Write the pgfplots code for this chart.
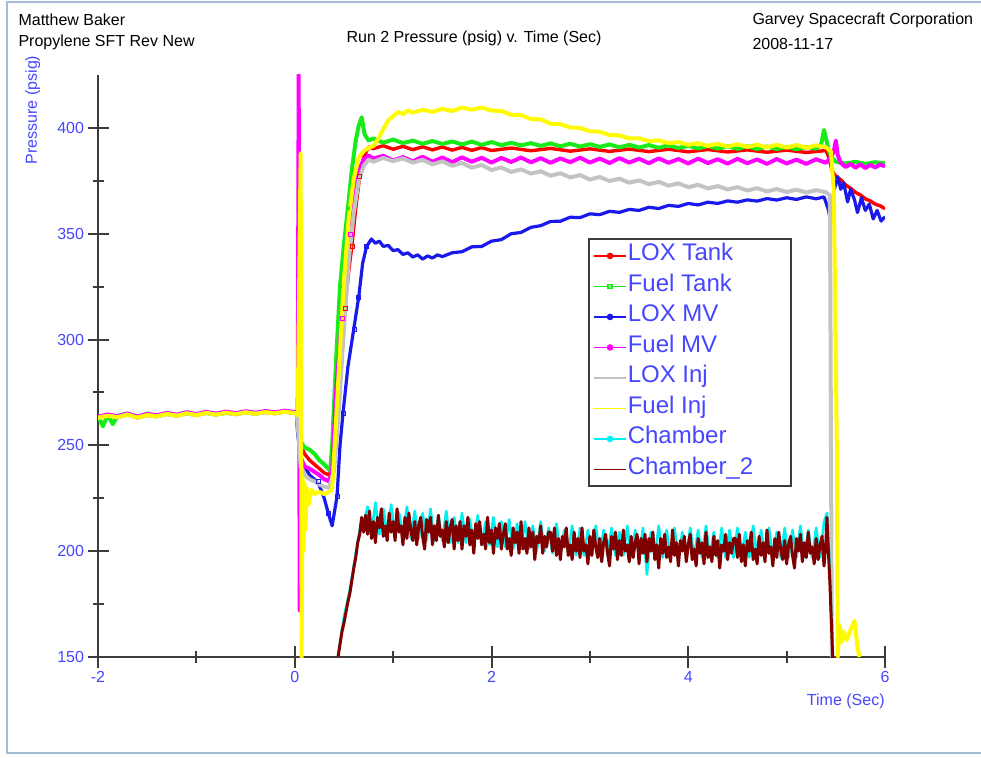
\documentclass[border=0pt]{standalone}
\usepackage{fontspec}
\setmainfont{Liberation Sans}
\usepackage{pgfplots}
\pgfplotsset{compat=1.18}

\definecolor{lox}{RGB}{255,0,0}
\definecolor{fueltank}{RGB}{25,235,25}
\definecolor{loxmv}{RGB}{25,25,235}
\definecolor{fuelmv}{RGB}{255,0,255}
\definecolor{loxinj}{RGB}{195,195,195}
\definecolor{fuelinj}{RGB}{255,250,0}
\definecolor{chamb}{RGB}{0,240,240}
\definecolor{chambtwo}{RGB}{128,0,0}
\definecolor{txtblue}{RGB}{70,70,255}
\definecolor{framecol}{RGB}{165,188,215}
\definecolor{axcol}{RGB}{60,60,60}

\newcommand{\lgd}[1]{\makebox[158pt][l]{#1}}

\begin{document}
\begin{tikzpicture}
\useasboundingbox (0,0) rectangle (981pt,757pt);
\draw[framecol, line width=2pt] (995pt,755pt) -- (7pt,755pt) -- (7pt,4pt) -- (995pt,4pt);

\begin{axis}[
    at={(98pt,100pt)}, anchor=south west,
    scale only axis, width=787pt, height=582pt,
    xmin=-2, xmax=6, ymin=150, ymax=425,
    axis lines*=left,
    axis line style={axcol, line width=2pt},
    tick style={axcol, line width=2pt},
    tick align=center,
    major tick length=21pt, minor tick length=11pt,
    xtick={-2,0,2,4,6}, minor xtick={-1,1,3,5},
    ytick={150,200,...,400}, minor ytick={175,225,...,375},
    /pgf/number format/assume math mode=true,
    ticklabel style={font=\fontsize{16}{18}\selectfont, text=txtblue},
    xlabel={Time (Sec)},
    ylabel={Pressure (psig)},
    every axis x label/.style={at={(axis description cs:1.004,-0.077)}, anchor=east, font=\fontsize{16}{18}\selectfont, text=txtblue},
    every axis y label/.style={at={(axis description cs:-0.083,0.94)}, rotate=90, anchor=center, font=\fontsize{16}{18}\selectfont, text=txtblue},
    legend style={at={(0.623,0.72)}, anchor=north west, draw=axcol, line width=2pt, fill=white,
        font=\fontsize{24}{27}\selectfont, text=txtblue, inner xsep=4pt, inner ysep=5pt, row sep=6.5pt,
        nodes={inner sep=1pt, text height=16pt, text depth=6pt}},
    legend cell align=left,
    legend image code/.code={\draw[mark repeat=2, mark phase=2, #1] plot coordinates {(0pt,0pt) (16pt,0pt) (32pt,0pt)};},
]

% LOX Tank
\addplot[forget plot, lox, line width=3.4pt, line join=round] coordinates {
(-2,263)(-1.9,264.2)(-1.8,263.4)(-1.7,264.6)(-1.6,263.2)(-1.5,264.4)(-1.4,263.8)(-1.3,264.9)(-1.2,264.1)(-1.1,265.2)(-1,264.4)(-0.9,265.4)(-0.8,264.6)(-0.7,265.5)(-0.6,264.8)(-0.5,265.7)(-0.4,265)(-0.3,265.8)(-0.2,265.2)(-0.1,266)(0,265.3)(0.02,265.6)
(0.03,258)(0.06,250)(0.1,246)(0.15,243)(0.2,241)(0.25,239)(0.3,237)(0.35,236)(0.38,240)(0.42,268)(0.46,295)(0.51,315)(0.55,333)(0.58,344)(0.62,362)(0.66,377)(0.70,386)(0.75,391)
(0.8,390.2)(0.9,391.6)(1.0,389.9)(1.1,391.3)(1.2,389.7)(1.3,391.1)(1.4,389.6)(1.5,391)(1.6,389.5)(1.7,390.8)(1.8,389.4)(1.9,390.7)(2.0,389.3)(2.2,390.5)(2.4,389.2)(2.6,390.3)(2.8,389)(3.0,390.1)(3.2,388.9)(3.4,390)(3.6,388.8)(3.8,389.9)(4.0,388.7)(4.2,389.8)(4.4,388.6)(4.6,389.6)(4.8,388.5)(5.0,389.5)(5.2,388.4)(5.4,389.3)
(5.43,386)(5.46,380)(5.5,377)(5.55,375.5)(5.6,373)(5.65,371.5)(5.7,369.5)(5.75,368.3)(5.8,366.5)(5.85,365.5)(5.9,364)(5.95,363.2)(6,361.8)
};
\addplot[forget plot, only marks, lox, mark=square, mark size=2pt] coordinates {(0.51,315)(0.58,344)(0.66,377)};

% Fuel Tank
\addplot[forget plot, fueltank, line width=4pt, line join=round] coordinates {
(-2,264)(-1.95,259)(-1.9,264.5)(-1.85,260)(-1.8,264)(-1.7,265)(-1.6,263.5)(-1.5,265)(-1.4,264)(-1.3,265.3)(-1.2,264.3)(-1.1,265.6)(-1,264.5)(-0.9,265.6)(-0.8,264.8)(-0.7,265.8)(-0.6,265)(-0.5,266)(-0.4,265.2)(-0.3,266.1)(-0.2,265.4)(-0.1,266.2)(0,265.6)(0.02,266)
(0.03,258)(0.06,252)(0.1,249)(0.15,248)(0.2,246)(0.25,243)(0.3,241)(0.36,238)(0.38,250)(0.42,290)(0.46,325)(0.5,345)(0.54,362)(0.58,380)(0.62,394)(0.65,401)(0.68,405)(0.71,397)(0.75,394)
(0.8,395)(0.9,393)(1.0,394.5)(1.1,392.8)(1.2,394)(1.3,392.5)(1.4,393.8)(1.5,392.4)(1.6,393.6)(1.7,392.2)(1.8,393.5)(1.9,392)(2.0,393.3)(2.1,391.8)(2.2,393)(2.3,391.7)(2.4,392.8)(2.5,391.5)(2.6,392.7)(2.7,391.3)(2.8,392.5)(2.9,391.2)(3.0,392.3)(3.1,391)(3.2,392.2)(3.3,390.8)(3.4,392)(3.5,390.7)(3.6,391.9)(3.7,390.6)(3.8,391.8)(3.9,390.5)(4.0,391.6)(4.1,390.3)(4.2,391.5)(4.3,390.2)(4.4,391.4)(4.5,390.1)(4.6,391.3)(4.7,390)(4.8,391.2)(4.9,390)(5.0,391.1)(5.1,389.9)(5.2,391)(5.3,390.2)
(5.35,392)(5.38,399)(5.40,395)(5.43,389)(5.46,386)(5.5,384)(5.6,383.2)(5.7,384)(5.8,383)(5.9,383.8)(6,383.2)
};
\addplot[forget plot, only marks, fueltank, mark=*, mark size=2pt] coordinates {(0.46,325)(0.54,362)(0.62,394)};

% LOX MV
\addplot[forget plot, loxmv, line width=3.2pt, line join=round] coordinates {
(-2,263)(-1.9,264)(-1.8,263.2)(-1.7,264.4)(-1.6,263)(-1.5,264.2)(-1.4,263.6)(-1.3,264.7)(-1.2,263.9)(-1.1,265)(-1,264.2)(-0.9,265.2)(-0.8,264.4)(-0.7,265.3)(-0.6,264.6)(-0.5,265.5)(-0.4,264.8)(-0.3,265.6)(-0.2,265)(-0.1,265.8)(0,265.1)(0.02,265.4)
(0.03,255)(0.06,245)(0.1,240)(0.15,236)(0.2,234)(0.25,231)(0.3,225)(0.34,218)(0.38,212)(0.43,226)(0.46,250)(0.49,265)(0.54,287)(0.6,305)(0.65,320)(0.69,336)(0.73,344)(0.78,347.5)
(0.82,345.5)(0.86,346.5)(0.9,344)(0.95,344.5)(1.0,342)(1.05,342.5)(1.1,340.2)(1.15,341)(1.2,339)(1.25,340)(1.3,338)(1.35,339.5)(1.4,338.5)(1.45,340)(1.5,339.2)(1.6,341)(1.7,341.5)(1.8,343.8)(1.9,344)(2.0,346.5)(2.1,347.2)(2.2,350)(2.3,350.6)(2.4,353)(2.5,353.8)(2.6,355.8)(2.7,355.9)(2.8,357.8)(2.9,357.6)(3.0,359.4)(3.1,359)(3.2,360.6)(3.3,360.1)(3.4,361.5)(3.5,361)(3.6,362.5)(3.7,361.9)(3.8,363.4)(3.9,362.9)(4.0,364.3)(4.1,363.6)(4.2,364.9)(4.3,364.3)(4.4,365.5)(4.5,364.9)(4.6,366)(4.7,365.4)(4.8,366.6)(4.9,365.9)(5.0,367)(5.1,366.2)(5.2,367.4)(5.3,366.5)(5.38,367.4)
(5.42,362)(5.45,356)(5.48,370)(5.52,377)(5.55,371)(5.58,374)(5.62,365)(5.65,371)(5.69,366)(5.72,360)(5.76,367)(5.8,361)(5.84,364)(5.88,357)(5.92,361)(5.96,356)(6,358)
};
\addplot[forget plot, only marks, loxmv, mark=square, mark size=2pt] coordinates {(0.24,233)(0.34,218)(0.43,226)(0.49,265)(0.6,305)(0.65,320)(0.73,344)};

% Fuel MV
\addplot[forget plot, fuelmv, line width=4pt, line join=round] coordinates {
(-2,263.5)(-1.9,264.6)(-1.8,263.8)(-1.7,265)(-1.6,263.6)(-1.5,264.8)(-1.4,264.2)(-1.3,265.3)(-1.2,264.5)(-1.1,265.6)(-1,264.8)(-0.9,265.8)(-0.8,265)(-0.7,265.9)(-0.6,265.2)(-0.5,266.1)(-0.4,265.4)(-0.3,266.2)(-0.2,265.6)(-0.1,266.4)(0,265.7)(0.02,266)
(0.03,265)(0.04,425)(0.05,172)(0.06,236)(0.08,242)(0.1,240)(0.15,239)(0.2,237.5)(0.25,236)(0.3,234)(0.35,233)(0.38,238)(0.42,275)(0.48,310)(0.52,332)(0.56,350)(0.6,368)(0.65,380)(0.7,385)(0.75,387)
(0.8,385.5)(0.9,386.8)(1.0,384.6)(1.1,386.2)(1.2,384.2)(1.3,386.4)(1.4,384)(1.5,386)(1.6,383.8)(1.7,386.1)(1.8,384)(1.9,385.9)(2.0,383.6)(2.1,385.8)(2.2,383.9)(2.3,386)(2.4,383.7)(2.5,385.7)(2.6,383.5)(2.7,385.6)(2.8,383.8)(2.9,385.9)(3.0,383.6)(3.1,385.5)(3.2,383.4)(3.3,385.7)(3.4,383.6)(3.5,385.4)(3.6,383.3)(3.7,385.6)(3.8,383.5)(3.9,385.3)(4.0,383.2)(4.1,385.5)(4.2,383.4)(4.3,385.2)(4.4,383.1)(4.5,385.4)(4.6,383.3)(4.7,385.1)(4.8,383)(4.9,385.3)(5.0,383.2)(5.1,385)(5.2,383)(5.3,385.2)(5.4,383.5)
(5.45,386)(5.48,389)(5.5,394)(5.52,387)(5.55,383.5)(5.6,381.5)(5.65,383)(5.7,381.2)(5.75,382.8)(5.8,381)(5.85,382.6)(5.9,381.3)(5.95,382.7)(6,381.8)
};
\addplot[forget plot, only marks, fuelmv, mark=square, mark size=2pt] coordinates {(0.48,310)(0.56,350)};

% LOX Inj
\addplot[forget plot, loxinj, line width=4pt, line join=round] coordinates {
(-2,263)(-1.9,264)(-1.8,263.3)(-1.7,264.5)(-1.6,263.1)(-1.5,264.3)(-1.4,263.7)(-1.3,264.8)(-1.2,264)(-1.1,265.1)(-1,264.3)(-0.9,265.3)(-0.8,264.5)(-0.7,265.4)(-0.6,264.7)(-0.5,265.6)(-0.4,264.9)(-0.3,265.7)(-0.2,265.1)(-0.1,265.9)(0,265.2)(0.02,265.5)
(0.03,260)(0.06,240)(0.1,236)(0.15,234)(0.2,233)(0.25,231.5)(0.3,230.5)(0.35,230)(0.4,238)(0.45,268)(0.5,305)(0.55,338)(0.6,360)(0.65,375)(0.7,382)(0.75,385)
(0.8,384)(0.9,385.8)(1.0,384.3)(1.1,385.6)(1.2,383.6)(1.3,384.9)(1.4,382.8)(1.5,384.2)(1.6,382.1)(1.7,383.4)(1.8,381.2)(1.9,382.5)(2.0,380.1)(2.1,381.3)(2.2,379.2)(2.3,380.4)(2.4,378.4)(2.5,379.5)(2.6,377.4)(2.7,378.6)(2.8,376.6)(2.9,377.7)(3.0,375.6)(3.1,376.8)(3.2,374.9)(3.3,376)(3.4,374.1)(3.5,375.2)(3.6,373.4)(3.7,374.5)(3.8,372.7)(3.9,373.8)(4.0,372)(4.1,373.1)(4.2,371.4)(4.3,372.5)(4.4,370.9)(4.5,372)(4.6,370.4)(4.7,371.5)(4.8,370)(4.9,371.1)(5.0,369.7)(5.1,370.8)(5.2,369.5)(5.3,370.6)(5.4,369.6)
(5.44,368)(5.46,150)
};

% Fuel Inj
\addplot[forget plot, fuelinj, line width=4pt, line join=round] coordinates {
(-2,263)(-1.9,264)(-1.8,263.3)(-1.7,264.5)(-1.6,263.1)(-1.5,264.3)(-1.4,263.7)(-1.3,264.8)(-1.2,264)(-1.1,265.1)(-1,264.3)(-0.9,265.3)(-0.8,264.5)(-0.7,265.4)(-0.6,264.7)(-0.5,265.6)(-0.4,264.9)(-0.3,265.7)(-0.2,265.1)(-0.1,265.9)(0,265.2)(0.02,265.5)
(0.03,264)(0.06,388)(0.07,150)(0.08,235)(0.09,200)(0.1,232)(0.11,210)(0.12,230)(0.14,222)(0.17,229)(0.2,227)(0.25,228)(0.3,227)(0.35,228)(0.38,229)(0.42,262)(0.46,295)(0.5,328)(0.55,358)(0.6,376)(0.65,386)(0.7,389)(0.75,390.5)
(0.8,391.5)(0.85,395)(0.9,399.5)(0.95,403.5)(1.0,405.5)(1.05,407.5)(1.1,406.5)(1.15,408.2)(1.2,407.2)(1.3,408.6)(1.4,407.6)(1.5,409)(1.6,408)(1.7,409.6)(1.8,408.6)(1.9,409.6)(2.0,408.2)(2.1,408)(2.2,406.2)(2.3,406)(2.4,404.2)(2.5,404)(2.6,402)(2.7,401.8)(2.8,400.2)(2.9,400)(3.0,398.4)(3.1,398.2)(3.2,396.6)(3.3,396.5)(3.4,395)(3.5,395.1)(3.6,393.8)(3.7,394.1)(3.8,392.8)(3.9,393.3)(4.0,392)(4.1,392.8)(4.2,391.5)(4.3,392.5)(4.4,391.2)(4.5,392.3)(4.6,391)(4.7,392.1)(4.8,390.8)(4.9,392)(5.0,390.7)(5.1,391.9)(5.2,390.6)(5.3,391.8)(5.4,390.8)
(5.45,389)(5.48,370)(5.51,250)(5.52,150)(5.54,165)(5.56,157)(5.58,162)(5.61,158)(5.65,163)(5.69,167)(5.72,155)(5.74,150)
};

% Chamber
\addplot[forget plot, chamb, line width=2.6pt, line join=round] coordinates {
(0.44,150)(0.47,160)(0.50,169)(0.53,175)(0.56,182)(0.59,190)(0.62,199)(0.65,207)(0.68,215)(0.70,212)
(0.74,221)(0.78,208)(0.82,223)(0.86,208)(0.90,220)(0.94,208)(0.98,222)(1.02,207)(1.06,218)(1.10,207)(1.14,221)(1.18,206)(1.22,219)(1.26,206)(1.30,218)(1.34,205)(1.38,220)(1.42,205)(1.46,217)(1.50,205)(1.54,219)(1.58,204)(1.62,216)(1.66,204)(1.70,218)(1.74,204)(1.78,215)(1.82,203)(1.86,217)(1.90,203)(1.94,214)(1.98,203)
(2.02,216)(2.06,202)(2.10,214)(2.14,202)(2.18,215)(2.22,201)(2.26,213)(2.30,201)(2.34,214)(2.38,201)(2.42,212)(2.46,200)(2.50,214)(2.54,200)(2.58,211)(2.62,199)(2.66,213)(2.70,199)(2.74,210)(2.78,199)(2.82,212)(2.86,198)(2.90,211)(2.94,198)(2.98,210)
(3.02,198)(3.06,212)(3.10,198)(3.14,210)(3.18,198)(3.22,211)(3.26,198)(3.30,209)(3.34,198)(3.38,212)(3.42,197)(3.46,210)(3.50,197)(3.54,211)(3.58,189)(3.62,209)(3.66,197)(3.70,212)(3.74,197)(3.78,210)(3.82,197)(3.86,211)(3.90,197)(3.94,209)(3.98,197)
(4.02,211)(4.06,197)(4.10,210)(4.14,197)(4.18,212)(4.22,197)(4.26,209)(4.30,197)(4.34,211)(4.38,197)(4.42,210)(4.46,197)(4.50,211)(4.54,197)(4.58,209)(4.62,197)(4.66,212)(4.70,197)(4.74,210)(4.78,197)(4.82,211)(4.86,197)(4.90,209)(4.94,197)(4.98,211)
(5.02,197)(5.06,210)(5.10,197)(5.14,212)(5.18,197)(5.22,210)(5.26,197)(5.30,211)(5.34,197)(5.38,214)(5.41,218)(5.43,200)(5.45,175)(5.47,150)
};

% Chamber_2
\addplot[forget plot, chambtwo, line width=3pt, line join=round] coordinates {
(0.44,150)(0.46,156)(0.48,162)(0.50,166)(0.52,171)(0.54,176)(0.56,180)(0.58,186)(0.60,192)(0.62,197)(0.64,204)(0.66,208)(0.68,216)(0.70,209)
(0.72,217)(0.74,208)(0.76,219)(0.78,206)(0.80,214)(0.82,204)(0.84,216)(0.86,211)(0.88,220)(0.90,207)(0.92,212)(0.94,205)(0.96,218)(0.98,209)
(1.00,214)(1.02,205)(1.04,220)(1.06,209)(1.08,212)(1.10,203)(1.12,216)(1.14,206)(1.16,218)(1.18,210)(1.20,205)(1.22,214)(1.24,203)(1.26,212)(1.28,216)(1.30,207)(1.32,201)(1.34,215)(1.36,209)(1.38,216)(1.40,203)(1.42,212)(1.44,205)(1.46,217)(1.48,207)
(1.50,210)(1.52,202)(1.54,214)(1.56,204)(1.58,211)(1.60,215)(1.62,201)(1.64,212)(1.66,205)(1.68,214)(1.70,201)(1.72,212)(1.74,207)(1.76,216)(1.78,203)(1.80,210)(1.82,199)(1.84,213)(1.86,206)(1.88,214)(1.90,203)(1.92,208)(1.94,201)(1.96,216)(1.98,204)
(2.00,210)(2.02,199)(2.04,211)(2.06,206)(2.08,213)(2.10,201)(2.12,208)(2.14,213)(2.16,201)(2.18,206)(2.20,198)(2.22,211)(2.24,204)(2.26,209)(2.28,199)(2.30,214)(2.32,201)(2.34,206)(2.36,199)(2.38,211)(2.40,202)(2.42,209)(2.44,196)(2.46,207)(2.48,204)
(2.50,212)(2.52,199)(2.54,207)(2.56,202)(2.58,209)(2.60,209)(2.62,200)(2.64,211)(2.66,198)(2.68,206)(2.70,196)(2.72,207)(2.74,202)(2.76,211)(2.78,198)(2.80,203)(2.82,196)(2.84,209)(2.86,200)(2.88,206)(2.90,197)(2.92,211)(2.94,200)(2.96,203)(2.98,194)
(3.00,207)(3.02,198)(3.04,210)(3.06,202)(3.08,197)(3.10,206)(3.12,195)(3.14,204)(3.16,208)(3.18,199)(3.20,193)(3.22,207)(3.24,201)(3.26,209)(3.28,196)(3.30,205)(3.32,198)(3.34,210)(3.36,200)(3.38,203)(3.40,195)(3.42,207)(3.44,197)(3.46,204)(3.48,208)
(3.50,194)(3.52,206)(3.54,199)(3.56,208)(3.58,195)(3.60,206)(3.62,200)(3.64,209)(3.66,196)(3.68,203)(3.70,192)(3.72,206)(3.74,199)(3.76,208)(3.78,197)(3.80,202)(3.82,195)(3.84,210)(3.86,198)(3.88,204)(3.90,193)(3.92,205)(3.94,200)(3.96,207)(3.98,195)
(4.00,203)(4.02,208)(4.04,196)(4.06,201)(4.08,193)(4.10,206)(4.12,199)(4.14,204)(4.16,194)(4.18,209)(4.20,197)(4.22,202)(4.24,195)(4.26,207)(4.28,198)(4.30,205)(4.32,192)(4.34,203)(4.36,200)(4.38,208)(4.40,196)(4.42,204)(4.44,199)(4.46,206)(4.48,206)
(4.50,197)(4.52,208)(4.54,195)(4.56,203)(4.58,193)(4.60,205)(4.62,200)(4.64,209)(4.66,196)(4.68,201)(4.70,194)(4.72,207)(4.74,198)(4.76,204)(4.78,195)(4.80,210)(4.82,199)(4.84,202)(4.86,193)(4.88,206)(4.90,197)(4.92,209)(4.94,201)(4.96,196)(4.98,205)
(5.00,194)(5.02,203)(5.04,207)(5.06,198)(5.08,192)(5.10,206)(5.12,200)(5.14,208)(5.16,195)(5.18,204)(5.20,197)(5.22,209)(5.24,199)(5.26,202)(5.28,194)(5.30,206)(5.32,196)(5.34,203)(5.36,207)(5.38,193)(5.40,205)
(5.41,216)(5.42,204)(5.44,185)(5.46,160)(5.47,148)
};

\addlegendimage{lox, line width=1.5pt, mark=*, mark size=2.5pt}
\addlegendentry{\lgd{LOX Tank}}
\addlegendimage{fueltank, line width=1.5pt, mark=square*, mark size=2pt, mark options={fill=fueltank!40}}
\addlegendentry{\lgd{Fuel Tank}}
\addlegendimage{loxmv, line width=1.5pt, mark=*, mark size=2.5pt}
\addlegendentry{\lgd{LOX MV}}
\addlegendimage{fuelmv, line width=1.5pt, mark=*, mark size=2.5pt}
\addlegendentry{\lgd{Fuel MV}}
\addlegendimage{loxinj, line width=1.5pt}
\addlegendentry{\lgd{LOX Inj}}
\addlegendimage{fuelinj, line width=1.5pt}
\addlegendentry{\lgd{Fuel Inj}}
\addlegendimage{chamb, line width=1.5pt, mark=*, mark size=2.5pt}
\addlegendentry{\lgd{Chamber}}
\addlegendimage{chambtwo, line width=1.5pt}
\addlegendentry{\lgd{Chamber\_2}}
\end{axis}

\node[anchor=west, font=\fontsize{16}{19}\selectfont] at (15pt,737pt) {Matthew Baker};
\node[anchor=west, font=\fontsize{16}{19}\selectfont] at (15pt,715pt) {Propylene SFT Rev New};
\node[font=\fontsize{16}{19}\selectfont] at (474pt,719pt) {Run 2 Pressure (psig) v. Time (Sec)};
\node[anchor=west, font=\fontsize{16}{19}\selectfont] at (749pt,737pt) {Garvey Spacecraft Corporation};
\node[anchor=west, font=\fontsize{16}{19}\selectfont] at (749pt,713pt) {2008-11-17};
\end{tikzpicture}
\end{document}
